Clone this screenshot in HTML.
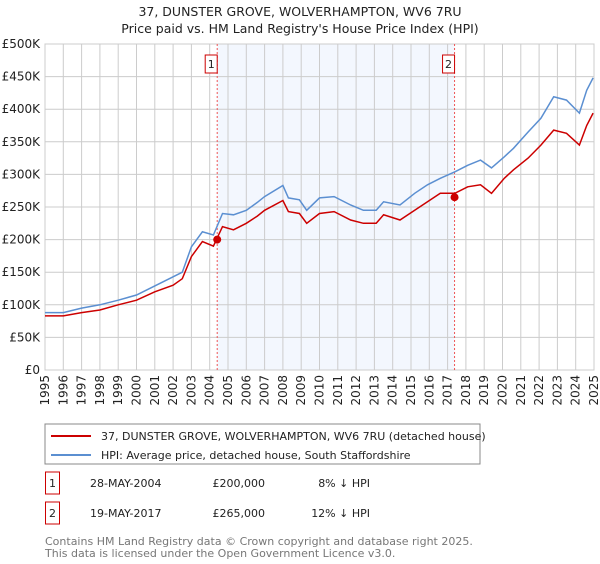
<!DOCTYPE html>
<html><head><meta charset="utf-8"><style>
body{margin:0;background:#fff;font-family:"DejaVu Sans","Liberation Sans",sans-serif;}
svg text{font-family:"DejaVu Sans","Liberation Sans",sans-serif;}
</style></head><body>
<svg width="600" height="560" xmlns="http://www.w3.org/2000/svg" id="chart">
<text x="300" y="16" text-anchor="middle" font-size="12.5" fill="#222">37, DUNSTER GROVE, WOLVERHAMPTON, WV6 7RU</text>
<text x="300" y="33" text-anchor="middle" font-size="12.5" fill="#222">Price paid vs. HM Land Registry's House Price Index (HPI)</text>
<g id="plot"></g>
<g>
<rect x="45" y="424" width="435" height="40" fill="#fff" stroke="#888"/>
<line x1="51" y1="436" x2="91" y2="436" stroke="#cc0000" stroke-width="2"/>
<text x="101" y="440" font-size="11" fill="#222">37, DUNSTER GROVE, WOLVERHAMPTON, WV6 7RU (detached house)</text>
<line x1="51" y1="455" x2="91" y2="455" stroke="#5b8fd1" stroke-width="2"/>
<text x="101" y="459" font-size="11" fill="#222">HPI: Average price, detached house, South Staffordshire</text>
</g>
<g font-size="11" fill="#222">
<rect x="45.5" y="472" width="14" height="22" fill="#fff" stroke="#cc0000"/>
<text x="52.5" y="487" text-anchor="middle">1</text>
<text x="90" y="487">28-MAY-2004</text>
<text x="265" y="487" text-anchor="end">£200,000</text>
<text x="370" y="487" text-anchor="end">8% ↓ HPI</text>
<rect x="45.5" y="502" width="14" height="22" fill="#fff" stroke="#cc0000"/>
<text x="52.5" y="517" text-anchor="middle">2</text>
<text x="90" y="517">19-MAY-2017</text>
<text x="265" y="517" text-anchor="end">£265,000</text>
<text x="370" y="517" text-anchor="end">12% ↓ HPI</text>
</g>
<text x="45" y="545" font-size="11" fill="#777">Contains HM Land Registry data © Crown copyright and database right 2025.</text>
<text x="45" y="557" font-size="11" fill="#777">This data is licensed under the Open Government Licence v3.0.</text>
</svg>
<script>
const hpiYears=[1995,1996,1997,1998,1999,2000,2001,2002,2002.5,2003,2003.6,2004.2,2004.7,2005.3,2006,2006.6,2007,2008,2008.3,2008.9,2009.3,2010,2010.8,2011.7,2012.4,2013.1,2013.5,2014.4,2015.2,2015.9,2016.6,2017.4,2018.1,2018.8,2019.4,2020.1,2020.6,2021.4,2022.1,2022.8,2023.5,2024.2,2024.6,2024.95];
const hpiValues=[88,88,95,100,107,115,129,143,150,189,212,207,240,238,245,257,266,283,264,261,245,264,266,253,245,245,258,253,271,284,294,304,314,322,310,327,340,365,386,419,414,394,429,448];
const priceValues=[83,83,88,92,100,107,120,130,140,174,197,190,220,215,225,236,245,260,243,240,225,240,243,230,225,225,238,230,245,258,271,271,281,284,271,294,307,325,345,368,363,345,375,394];
const yTicks=[0,50,100,150,200,250,300,350,400,450,500];
const yTickLabels=["£0","£50K","£100K","£150K","£200K","£250K","£300K","£350K","£400K","£450K","£500K"];
const xTicks=[1995,1996,1997,1998,1999,2000,2001,2002,2003,2004,2005,2006,2007,2008,2009,2010,2011,2012,2013,2014,2015,2016,2017,2018,2019,2020,2021,2022,2023,2024,2025];
const saleYears=[2004.41,2017.38];
const salePrices=[200,265];
const saleLabels=["1","2"];

const NS="http://www.w3.org/2000/svg";
const L=45,R=594,T=44,B=370;
const xs=y=>L+(y-1995)/30*(R-L);
const ys=v=>B-v/500*(B-T);
const plot=document.getElementById('plot');
function mk(tag,attrs,parent){const e=document.createElementNS(NS,tag);for(const k in attrs)e.setAttribute(k,attrs[k]);(parent||plot).appendChild(e);return e;}

const shade=mk('rect',{x:xs(saleYears[0]),y:T,width:xs(saleYears[1])-xs(saleYears[0]),height:B-T,fill:'#eef3fd',opacity:0.7});



yTicks.forEach((v,i)=>{
  const g=mk('line',{x1:L,x2:R,y1:ys(v),y2:ys(v),stroke:'#cccccc','stroke-width':1});
  
  
  const t=mk('text',{x:L-5,y:ys(v)+4,'text-anchor':'end','font-size':12,fill:'#222'});
  t.textContent=yTickLabels[i];
  
  
});
xTicks.forEach(y=>{
  const g=mk('line',{x1:xs(y),x2:xs(y),y1:T,y2:B,stroke:'#cccccc','stroke-width':1});
  
  
  const tx=xs(y)+4, ty=375;
  const t=mk('text',{x:tx,y:ty,'text-anchor':'end','font-size':12,fill:'#222',transform:`rotate(-90 ${tx} ${ty})`});
  t.textContent=String(y);
  
  
});
const frame=mk('rect',{x:L,y:T,width:R-L,height:B-T,fill:'none',stroke:'#cccccc'});



saleYears.forEach((y,i)=>{
  const l=mk('line',{x1:xs(y),x2:xs(y),y1:T,y2:B,stroke:'#ee5555','stroke-width':1,'stroke-dasharray':'2,2'});
  
  
});

function path(vals){return vals.map((v,i)=>(i?'L':'M')+xs(hpiYears[i]).toFixed(1)+','+ys(v).toFixed(1)).join(' ');}
const hp=mk('path',{d:path(hpiValues),fill:'none',stroke:'#5b8fd1','stroke-width':1.5});


const pp=mk('path',{d:path(priceValues),fill:'none',stroke:'#cc0000','stroke-width':1.5});



saleYears.forEach((y,i)=>{
  const c=mk('circle',{cx:xs(y),cy:ys(salePrices[i]),r:4,fill:'#cc0000'});
  
  
  const b=mk('rect',{x:xs(y)-12,y:55,width:12,height:18,fill:'#fff',stroke:'#cc0000'});
  
  
  const t=mk('text',{x:xs(y)-6,y:68,'text-anchor':'middle','font-size':11,fill:'#222'});
  t.textContent=saleLabels[i];
  
  
});
</script>
</body></html>
